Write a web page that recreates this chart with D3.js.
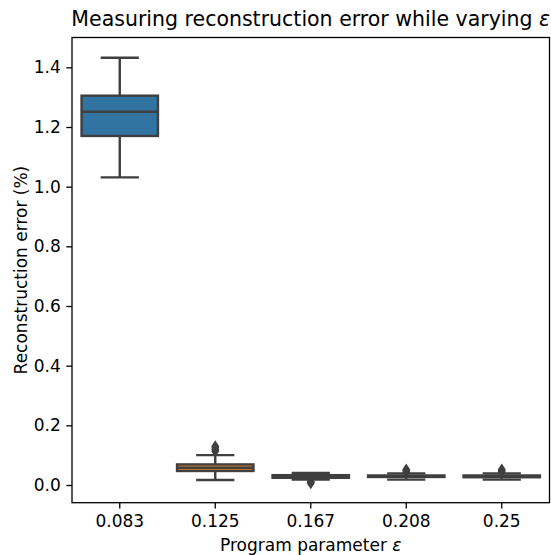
<!DOCTYPE html>
<html>
<head>
<meta charset="utf-8">
<script src="https://cdn.jsdelivr.net/npm/d3@7"></script>
<style>
  body { margin: 0; background: #fff; }
  svg text { font-family: "DejaVu Sans", sans-serif; fill: #000; }
</style>
</head>
<body>
<div id="chart"></div>
<script>
// values
var categories = ["0.083", "0.125", "0.167", "0.208", "0.25"];
var q1 =        [1.170, 0.047, 0.024, 0.027, 0.026];
var medians =   [1.251, 0.058, 0.028, 0.029, 0.029];
var q3 =        [1.305, 0.069, 0.033, 0.032, 0.032];
var whiskLow =  [1.031, 0.017, 0.018, 0.018, 0.018];
var whiskHigh = [1.432, 0.100, 0.040, 0.039, 0.039];
var fliers = [[], [0.113, 0.119, 0.125, 0.130], [0.006, 0.009, 0.012], [0.044, 0.048, 0.052], [0.044, 0.048, 0.052]];
var yTicks = [0, 0.2, 0.4, 0.6, 0.8, 1.0, 1.2, 1.4];
var yLimits = [-0.0593, 1.5];
var palette = ["#3274a1", "#e1812c", "#3a923a", "#c03d3e", "#9372b2"];

var gray = "#3f3f3f";

var svg = d3.select("#chart")
  .append("svg")
  .attr("width", 551)
  .attr("height", 555);

var margin = {top: 37.5, right: 1.5, bottom: 52.3, left: 72},
    width = svg.attr("width") - margin.left - margin.right,
    height = svg.attr("height") - margin.top - margin.bottom;

var x = d3.scaleBand()
    .domain(categories)
    .range([0, width])
    .padding(0);

var y = d3.scaleLinear()
    .domain(yLimits)
    .range([height, 0]);

var g = svg.append("g")
    .attr("transform", "translate(" + margin.left + "," + margin.top + ")");

var data = categories.map(function(c, i) {
  return {cat: c, q1: q1[i], med: medians[i], q3: q3[i], lo: whiskLow[i], hi: whiskHigh[i], fliers: fliers[i], color: palette[i]};
});

var boxW = x.bandwidth() * 0.8;
var lw = 2.4;

var box = g.selectAll(".box")
    .data(data)
  .enter().append("g")
    .attr("class", "box")
    .attr("transform", function(d) { return "translate(" + (x(d.cat) + x.bandwidth() / 2) + ",0)"; });

// whiskers
box.append("line")
    .attr("y1", function(d) { return y(d.q3); })
    .attr("y2", function(d) { return y(d.hi); })
    .attr("stroke", gray).attr("stroke-width", lw);
box.append("line")
    .attr("y1", function(d) { return y(d.q1); })
    .attr("y2", function(d) { return y(d.lo); })
    .attr("stroke", gray).attr("stroke-width", lw);

// caps
box.selectAll(".cap")
    .data(function(d) { return [d.lo, d.hi]; })
  .enter().append("line")
    .attr("class", "cap")
    .attr("x1", -boxW / 4).attr("x2", boxW / 4)
    .attr("y1", function(v) { return y(v); })
    .attr("y2", function(v) { return y(v); })
    .attr("stroke", gray).attr("stroke-width", lw);

// box
box.append("rect")
    .attr("x", -boxW / 2)
    .attr("width", boxW)
    .attr("y", function(d) { return y(d.q3); })
    .attr("height", function(d) { return y(d.q1) - y(d.q3); })
    .attr("fill", function(d) { return d.color; })
    .attr("stroke", gray).attr("stroke-width", lw);

// median
box.append("line")
    .attr("x1", -boxW / 2).attr("x2", boxW / 2)
    .attr("y1", function(d) { return y(d.med); })
    .attr("y2", function(d) { return y(d.med); })
    .attr("stroke", gray).attr("stroke-width", lw);

// fliers (thin diamonds)
box.selectAll(".flier")
    .data(function(d) { return d.fliers; })
  .enter().append("path")
    .attr("class", "flier")
    .attr("d", "M0,-4.5L3,0L0,4.5L-3,0Z")
    .attr("transform", function(v) { return "translate(0," + y(v) + ")"; })
    .attr("fill", gray)
    .attr("stroke", gray)
    .attr("stroke-width", 1.6);

// axes
var yAxis = g.append("g")
    .call(d3.axisLeft(y).tickValues(yTicks).tickFormat(d3.format(".1f")).tickSizeOuter(0).tickSizeInner(5.7).tickPadding(5.5));

var xAxis = g.append("g")
    .attr("transform", "translate(0," + height + ")")
    .call(d3.axisBottom(x).tickSizeOuter(0).tickSizeInner(5.7).tickPadding(5.5));

[yAxis, xAxis].forEach(function(a) {
  a.select(".domain").remove();
  a.selectAll(".tick line").attr("stroke", "#000").attr("stroke-width", 1.3);
  a.selectAll(".tick text").style("font-size", "17px").attr("fill", "#000");
});
xAxis.selectAll(".tick text").attr("dy", "0.76em");

// frame
g.append("rect")
    .attr("width", width)
    .attr("height", height)
    .attr("fill", "none")
    .attr("stroke", "#000")
    .attr("stroke-width", 1.3);

// title and labels
var title = svg.append("text")
    .attr("x", margin.left + width / 2)
    .attr("y", 26)
    .attr("text-anchor", "middle")
    .style("font-size", "20.5px")
    .text("Measuring reconstruction error while varying ");
title.append("tspan").style("font-style", "italic").text("ε");

var xlab = svg.append("text")
    .attr("x", margin.left + width / 2)
    .attr("y", 551)
    .attr("text-anchor", "middle")
    .style("font-size", "17px")
    .text("Program parameter ");
xlab.append("tspan").style("font-style", "italic").text("ε");

svg.append("text")
    .attr("transform", "translate(26.5," + (margin.top + height / 2) + ") rotate(-90)")
    .attr("text-anchor", "middle")
    .style("font-size", "17px")
    .text("Reconstruction error (%)");
</script>
</body>
</html>
